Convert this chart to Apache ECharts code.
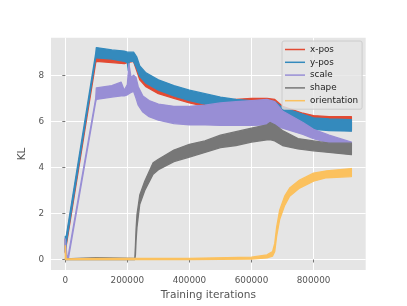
<!DOCTYPE html>
<html><head><meta charset="utf-8">
<script src="https://cdn.jsdelivr.net/npm/echarts@6/dist/echarts.min.js"></script>
<style>html,body{margin:0;padding:0;background:#fff}#c{width:407px;height:306px}</style>
</head><body><div id="c"></div>
<script>
// Tick labels
const xTicks = [0, 200000, 400000, 600000, 800000];
const yTicks = [0, 2, 4, 6, 8];
const seriesNames = ['x-pos', 'y-pos', 'scale', 'shape', 'orientation'];

// x-pos band (lower / upper envelope)
const xposX  = [0, 3000, 98000, 100000, 150000, 190000, 200000, 220000, 230000, 240000, 260000, 300000, 350000, 400000, 450000, 500000, 550000, 600000, 650000, 675000, 700000, 766000, 800000, 850000, 922000];
const xposLo = [0.3, 0.6, 8.55, 8.6, 8.55, 8.5, 8.55, 8.6, 8.2, 7.8, 7.5, 7.2, 7.0, 6.8, 6.65, 6.6, 6.6, 6.65, 6.6, 6.5, 6.2, 5.85, 5.7, 5.65, 5.6];
const xposHi = [0.9, 0.9, 8.7, 8.9, 8.85, 8.8, 8.85, 8.95, 8.6, 8.2, 7.8, 7.5, 7.3, 7.1, 6.95, 6.9, 6.95, 7.0, 7.0, 6.95, 6.65, 6.35, 6.25, 6.2, 6.2];

// y-pos band
const yposX  = [0, 3000, 98000, 100000, 150000, 190000, 200000, 203000, 206000, 220000, 230000, 240000, 260000, 300000, 350000, 400000, 450000, 500000, 550000, 600000, 650000, 675000, 700000, 766000, 800000, 850000, 922000];
const yposLo = [0.35, 0.7, 8.75, 8.75, 8.7, 8.6, 8.55, 8.2, 8.6, 8.6, 8.3, 7.95, 7.65, 7.35, 7.1, 6.9, 6.75, 6.6, 6.5, 6.45, 6.45, 6.4, 6.15, 5.8, 5.65, 5.6, 5.57];
const yposHi = [1.0, 1.0, 8.95, 9.2, 9.1, 9.05, 9.0, 9.0, 9.0, 9.0, 8.8, 8.4, 8.1, 7.8, 7.55, 7.35, 7.2, 7.05, 6.95, 6.9, 6.9, 6.85, 6.6, 6.3, 6.15, 6.1, 6.07];

// scale band
const scaleX  = [0, 6000, 10000, 98000, 100000, 150000, 180000, 190000, 200000, 205000, 212000, 220000, 228000, 235000, 250000, 270000, 300000, 350000, 400000, 450000, 500000, 550000, 600000, 650000, 675000, 700000, 766000, 800000, 850000, 922000];
const scaleLo = [0.3, 0, 0.05, 6.85, 6.95, 7.05, 7.1, 7.1, 7.15, 7.2, 7.25, 7.3, 7.0, 6.7, 6.4, 6.2, 6.05, 5.9, 5.85, 5.85, 5.82, 5.82, 5.82, 5.85, 5.8, 5.7, 5.43, 5.25, 5.05, 4.9];
const scaleHi = [0.9, 0.05, 0.2, 7.0, 7.45, 7.55, 7.7, 7.35, 7.6, 8.5, 7.9, 8.0, 7.9, 7.5, 7.1, 6.9, 6.75, 6.65, 6.65, 6.7, 6.8, 6.85, 6.9, 6.95, 6.85, 6.45, 5.95, 5.65, 5.4, 5.1];

// shape band
const shapeX  = [0, 100000, 224000, 226000, 228000, 231000, 240000, 256000, 283000, 300000, 350000, 400000, 450000, 500000, 550000, 600000, 650000, 660000, 675000, 700000, 750000, 800000, 850000, 922000];
const shapeLo = [0, 0, 0, 0.2, 0.8, 1.4, 2.4, 3.0, 3.7, 3.9, 4.25, 4.45, 4.65, 4.86, 4.95, 5.1, 5.2, 5.2, 5.15, 4.95, 4.8, 4.72, 4.65, 4.55];
const shapeHi = [0.03, 0.08, 0.05, 0.6, 1.3, 1.95, 2.8, 3.4, 4.2, 4.35, 4.75, 5.0, 5.15, 5.4, 5.55, 5.7, 5.85, 5.95, 5.85, 5.6, 5.25, 5.15, 5.05, 5.05];

// orientation band
const orientX  = [0, 3000, 100000, 400000, 600000, 650000, 668000, 675000, 681000, 691000, 707000, 723000, 755000, 800000, 842000, 922000];
const orientLo = [0, 0, 0, 0, 0.02, 0.07, 0.15, 0.35, 1.0, 1.75, 2.35, 2.75, 3.1, 3.4, 3.55, 3.6];
const orientHi = [0.6, 0.03, 0.05, 0.05, 0.1, 0.2, 0.35, 0.7, 1.4, 2.15, 2.75, 3.1, 3.45, 3.75, 3.85, 3.95];

const colors = ['#E24A33', '#348ABD', '#988ED5', '#777777', '#FBC15E'];
const FONT = 'DejaVu Sans';

function band(name, color, xs, lo, hi) {
  return {
    type: 'custom', name: name, coordinateSystem: 'cartesian2d', silent: true,
    itemStyle: { color: color },
    data: xs.map((x, i) => [x, lo[i], hi[i]]),
    encode: { x: 0, y: [1, 2] },
    renderItem: function (params, api) {
      if (params.dataIndex !== 0) return null;
      const pts = [];
      for (let i = 0; i < xs.length; i++) pts.push(api.coord([xs[i], hi[i]]));
      for (let i = xs.length - 1; i >= 0; i--) pts.push(api.coord([xs[i], lo[i]]));
      return { type: 'polygon', shape: { points: pts },
        style: { fill: color, stroke: color, lineWidth: 1.3, lineJoin: 'round' } };
    }
  };
}

const chart = echarts.init(document.getElementById('c'), null, { renderer: 'canvas' });
chart.setOption({
  animation: false,
  backgroundColor: '#ffffff',
  grid: { left: 51, right: 41.3, top: 37.7, bottom: 34.3, show: true, backgroundColor: '#E5E5E5', borderWidth: 0 },
  xAxis: {
    type: 'value', min: -46100, max: 968100,
    name: 'Training iterations', nameLocation: 'middle', nameGap: 17.5,
    nameTextStyle: { fontFamily: FONT, fontSize: 10.6, color: '#555555' },
    axisLine: { show: false },
    axisTick: { show: true, length: 3, lineStyle: { color: '#555555', width: 0.8 }, customValues: xTicks },
    axisLabel: { customValues: xTicks, fontFamily: FONT, fontSize: 8.8, color: '#555555', margin: 6,
      formatter: function (v) { return String(v); } },
    splitLine: { show: true, lineStyle: { color: '#ffffff', width: 1 } }
  },
  yAxis: {
    type: 'value', min: -0.46, max: 9.63,
    name: 'KL', nameLocation: 'middle', nameGap: 16, nameRotate: 90,
    nameTextStyle: { fontFamily: FONT, fontSize: 10.6, color: '#555555' },
    axisLine: { show: false },
    axisTick: { show: true, length: 3, lineStyle: { color: '#555555', width: 0.8 }, customValues: yTicks },
    axisLabel: { customValues: yTicks, fontFamily: FONT, fontSize: 8.8, color: '#555555', margin: 7,
      formatter: function (v) { return String(v); } },
    splitLine: { show: true, lineStyle: { color: '#ffffff', width: 1 } }
  },
  legend: {
    orient: 'vertical', left: 282, top: 41,
    padding: [4, 4, 4, 3], itemWidth: 20, itemHeight: 1.5, itemGap: 3.8,
    icon: 'rect',
    backgroundColor: 'rgba(229,229,229,0.8)', borderColor: '#cccccc', borderWidth: 1, borderRadius: 2,
    textStyle: { fontFamily: FONT, fontSize: 8.8, color: '#222222' },
    data: seriesNames
  },
  series: [
    band(seriesNames[0], colors[0], xposX, xposLo, xposHi),
    band(seriesNames[1], colors[1], yposX, yposLo, yposHi),
    band(seriesNames[2], colors[2], scaleX, scaleLo, scaleHi),
    band(seriesNames[3], colors[3], shapeX, shapeLo, shapeHi),
    band(seriesNames[4], colors[4], orientX, orientLo, orientHi)
  ]
});
</script></body></html>
